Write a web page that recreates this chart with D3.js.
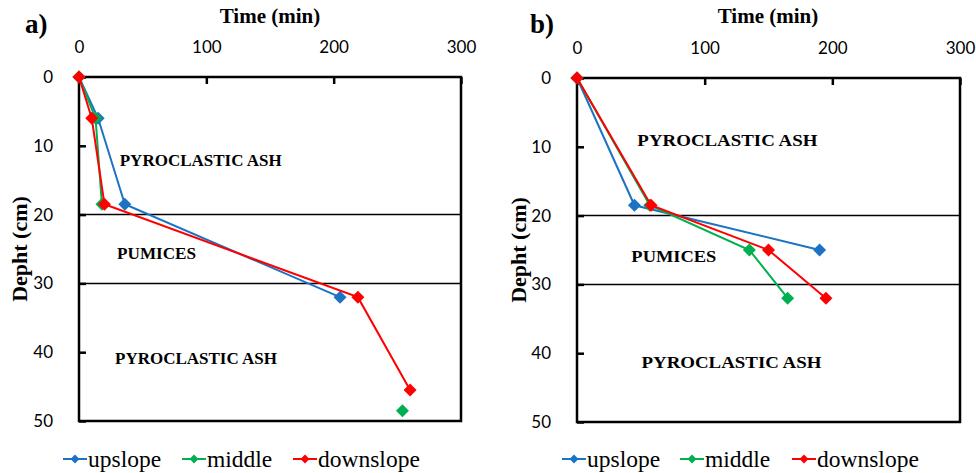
<!DOCTYPE html>
<html>
<head>
<meta charset="utf-8">
<script src="https://cdn.jsdelivr.net/npm/d3@7"></script>
<style>
  body { margin: 0; background: #fff; }
  svg { display: block; }
</style>
</head>
<body>
<svg id="chart" width="976" height="473"></svg>
<script>
// ---------- data ----------
const seriesNames = ["upslope", "middle", "downslope"];
const seriesColors = ["#1C73C4", "#00B050", "#FF0000"];
const timeTicks = [0, 100, 200, 300];
const depthTicks = [0, 10, 20, 30, 40, 50];
const layerBounds = [20, 30];

// panel a
const aDepthUp = [0, 6, 18.5, 32];
const aTimeUp = [0, 15, 36, 205];
const aDepthMid = [0, 6, 18.5, 32, 48.5];
const aTimeMid = [0, 13, 18, null, 254];
const aDepthDown = [0, 6, 18.5, 32, 45.5];
const aTimeDown = [0, 10, 20, 219, 260];

// panel b
const bDepthUp = [0, 18.5, 25];
const bTimeUp = [0, 45, 190];
const bDepthMid = [0, 18.5, 25, 32];
const bTimeMid = [0, 57, 135, 165];
const bDepthDown = [0, 18.5, 25, 32];
const bTimeDown = [0, 58, 150, 195];

const aLayerLabels = ["PYROCLASTIC ASH", "PUMICES", "PYROCLASTIC ASH"];
const bLayerLabels = ["PYROCLASTIC ASH", "PUMICES", "PYROCLASTIC ASH"];

// ---------- layout ----------
const svg = d3.select("#chart");
const serif = "'Liberation Serif', 'DejaVu Serif', serif";
const sans = "Lato, 'Liberation Sans', sans-serif";

function zip(ts, ds) { return ts.map((t, i) => ({ t: t, d: ds[i] })); }

const panels = [
  {
    tag: "a)", x0: 79, x1: 461, y0: 77, y1: 421,
    tagX: 25, titleX: 270, yTitleX: 19,
    series: [zip(aTimeUp, aDepthUp), zip(aTimeMid, aDepthMid), zip(aTimeDown, aDepthDown)],
    labels: aLayerLabels,
    labelPos: [[32, 12.0], [29.9, 25.6], [28.3, 40.8]],
    labelLen: [162, 79, 162],
    legendX: [63, 182, 293]
  },
  {
    tag: "b)", x0: 577, x1: 960, y0: 78, y1: 422,
    tagX: 530, titleX: 768, yTitleX: 518,
    series: [zip(bTimeUp, bDepthUp), zip(bTimeMid, bDepthMid), zip(bTimeDown, bDepthDown)],
    labels: bLayerLabels,
    labelPos: [[47.3, 9.05], [42.6, 25.8], [50.5, 41.3]],
    labelLen: [180, 85, 180],
    legendX: [562, 680, 792]
  }
];

const diamond = r => `M0,${-r}L${r},0L0,${r}L${-r},0Z`;

panels.forEach(p => {
  const x = d3.scaleLinear().domain([0, 300]).range([p.x0, p.x1]);
  const y = d3.scaleLinear().domain([0, 50]).range([p.y0, p.y1]);
  const g = svg.append("g");

  // layer boundary lines
  g.selectAll("line.layer").data(layerBounds).join("line")
    .attr("x1", p.x0).attr("x2", p.x1)
    .attr("y1", d => y(d)).attr("y2", d => y(d))
    .attr("stroke", "#000").attr("stroke-width", 1.5);

  // frame
  g.append("rect")
    .attr("x", p.x0).attr("y", p.y0)
    .attr("width", p.x1 - p.x0).attr("height", p.y1 - p.y0)
    .attr("fill", "none").attr("stroke", "#000").attr("stroke-width", 2.5);

  // top axis (inward ticks)
  const xAxis = d3.axisTop(x).tickValues(timeTicks).tickSize(-7).tickPadding(24).tickFormat(d3.format("d"));
  const gx = g.append("g").attr("transform", `translate(0,${p.y0})`).call(xAxis);
  gx.select(".domain").remove();
  gx.selectAll(".tick line").attr("stroke", "#000").attr("stroke-width", 2.5);
  gx.selectAll(".tick text").attr("font-family", sans).attr("font-size", 17).attr("fill", "#000");

  // left axis (inward ticks)
  const yAxis = d3.axisLeft(y).tickValues(depthTicks).tickSize(-7).tickPadding(26).tickFormat(d3.format("d"));
  const gy = g.append("g").attr("transform", `translate(${p.x0},0)`).call(yAxis);
  gy.select(".domain").remove();
  gy.selectAll(".tick line").attr("stroke", "#000").attr("stroke-width", 2.5);
  gy.selectAll(".tick text").attr("font-family", sans).attr("font-size", 17).attr("fill", "#000");

  // titles
  g.append("text").attr("x", p.tagX).attr("y", 33).text(p.tag)
    .attr("font-family", serif).attr("font-weight", "bold").attr("font-size", 27);
  g.append("text").attr("x", p.titleX).attr("y", 23).text("Time (min)")
    .attr("text-anchor", "middle")
    .attr("font-family", serif).attr("font-weight", "bold").attr("font-size", 21);
  g.append("text").text("Depht (cm)")
    .attr("transform", `translate(${p.yTitleX},${(p.y0 + p.y1) / 2}) rotate(-90)`)
    .attr("text-anchor", "middle").attr("dominant-baseline", "central")
    .attr("font-family", serif).attr("font-weight", "bold").attr("font-size", 22);

  // layer labels
  p.labels.forEach((lab, i) => {
    g.append("text").text(lab)
      .attr("x", x(p.labelPos[i][0])).attr("y", y(p.labelPos[i][1]))
      .attr("dominant-baseline", "central")
      .attr("textLength", p.labelLen[i]).attr("lengthAdjust", "spacingAndGlyphs")
      .attr("font-family", serif).attr("font-size", 17.5).attr("font-weight", "bold");
  });

  // series
  const line = d3.line().defined(d => d.t !== null).x(d => x(d.t)).y(d => y(d.d));
  p.series.forEach((s, i) => {
    const sg = g.append("g");
    sg.append("path").attr("d", line(s)).attr("fill", "none")
      .attr("stroke", seriesColors[i]).attr("stroke-width", 2);
    sg.selectAll("path.m").data(s.filter(d => d.t !== null)).join("path")
      .attr("class", "m")
      .attr("transform", d => `translate(${x(d.t)},${y(d.d)})`)
      .attr("d", diamond(6.5)).attr("fill", seriesColors[i]);
  });

  // legend
  seriesNames.forEach((name, i) => {
    const lx = p.legendX[i], ly = 459;
    g.append("line").attr("x1", lx).attr("x2", lx + 24).attr("y1", ly).attr("y2", ly)
      .attr("stroke", seriesColors[i]).attr("stroke-width", 2);
    g.append("path").attr("transform", `translate(${lx + 12},${ly})`).attr("d", diamond(4.5))
      .attr("fill", seriesColors[i]);
    g.append("text").text(name).attr("x", lx + 25).attr("y", ly).attr("dominant-baseline", "central")
      .attr("font-family", serif).attr("font-size", 23.5);
  });
});
</script>
</body>
</html>
